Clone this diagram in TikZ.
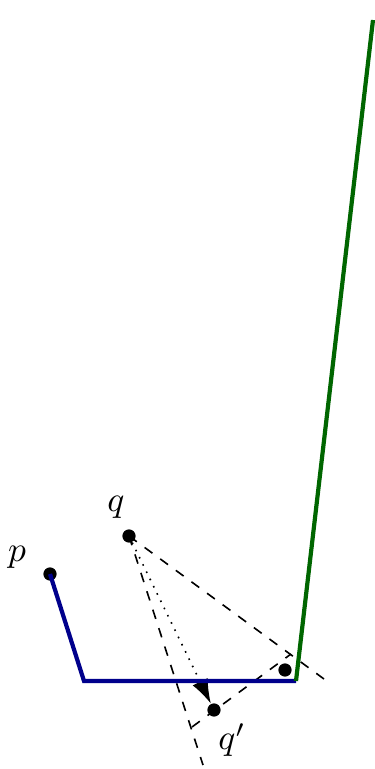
\documentclass[tikz,border=0pt]{standalone}
\usetikzlibrary{arrows.meta}

\begin{document}
\begin{tikzpicture}[
x=0.31pt,
y=-0.31pt,
dot/.style={
circle,
fill,
inner sep=0pt,
minimum size=4.1pt
},
wall/.style={line width=1.3pt},
guide/.style={dashed,line width=0.5pt}
]

\useasboundingbox (0,0) rectangle (374,769);

\node[dot] (p) at (50,574) {};
\node[dot] (q) at (129,536) {};
\node[dot] (qp) at (214,710) {};
\node[dot] (c) at (285,670) {};

\coordinate (b) at (84,681);
\coordinate (a) at (296,681);
\coordinate (g) at (373,20);
\coordinate (r) at (291,654);
\coordinate (l) at (192,727);
\coordinate (re) at (324,679);
\coordinate (le) at (203,765);

\node[scale=1.1] (pl) at (17,557) {$p$};
\node[scale=1.1] (ql) at (116,507) {$q$};
\node[scale=1.1] (qpl) at (232,740) {$q'$};

\draw[guide] (q.center) -- (re);
\draw[guide] (q.center) -- (le);
\draw[guide] (l) -- (r);
\draw[dotted,line width=0.5pt,-{Latex[length=7.5pt,width=5.2pt]}] (q) -- (qp);

\draw[wall,blue!55!black] (p.center) -- (b) -- (a);
\draw[wall,green!40!black] (a) -- (g);

\end{tikzpicture}
\end{document}
